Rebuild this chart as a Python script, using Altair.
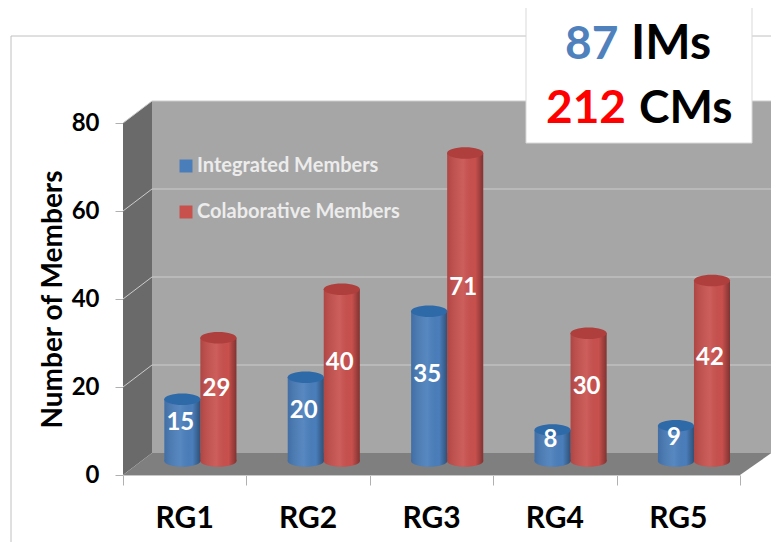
import altair as alt
import pandas as pd

groups = ["RG1", "RG2", "RG3", "RG4", "RG5"]
integrated = [15, 20, 35, 8, 9]
collaborative = [29, 40, 71, 30, 42]
series_names = ["Integrated Members", "Colaborative Members"]
y_ticks = [0, 20, 40, 60, 80]
FONT = "Lato"

rows = []
for i, g in enumerate(groups):
    for s, (name, vals) in enumerate(zip(series_names, [integrated, collaborative])):
        x0 = i + 0.335 + s * 0.292
        v = vals[i]
        rows.append(dict(group=g, series=name, value=v, x0=x0, x1=x0 + 0.292, xm=x0 + 0.146,
                         base=3.2, top=v + 2.2, ly=v * 0.55 + 3.5))
df = pd.DataFrame(rows)

xs = alt.Scale(domain=[0, 5], nice=False, zero=False)
ys = alt.Scale(domain=[0, 80], nice=False, zero=False)
x_axis = alt.Axis(values=list(range(6)), labels=False, tickSize=10, tickColor="#b0b0b0",
                  domainColor="#c8c8c8", grid=False, title=None)
y_axis = alt.Axis(values=y_ticks, tickSize=8, tickColor="#b0b0b0", domain=False, grid=False,
                  labelFont=FONT, labelFontWeight="bold", labelFontSize=24, labelColor="#000000",
                  labelPadding=16, titleFont=FONT, titleFontWeight="bold", titleFontSize=28,
                  titleColor="#000000", titlePadding=4, title="Number of Members")


def X(f):
    return alt.X(f, scale=xs, axis=x_axis, title=None)


def Y(f):
    return alt.Y(f, scale=ys, axis=y_axis, title="Number of Members")


DX, DY, DXR = 0.235, 5, 5.255

side = pd.DataFrame({"x": [0, DX], "y": [0, DY], "y2": [80, 80 + DY]})
floor = pd.DataFrame({"x": [0, DX, 5, DXR], "y": [0, DY, DY, DY], "y2": [0, 0, 0, DY]})
wall = pd.DataFrame({"x": [DX], "x2": [DXR], "y": [DY], "y2": [80 + DY]})
grid = pd.DataFrame({"v": y_ticks[1:]})
grid["w"] = grid.v + DY
grid["xa"], grid["xb"], grid["xc"] = 0, DX, DXR

side_layer = alt.Chart(side).mark_area(color="#6a6a6a").encode(x=X("x:Q"), y=Y("y:Q"), y2="y2:Q")
wall_layer = alt.Chart(wall).mark_rect(color="#a6a6a6").encode(x=X("x:Q"), x2="x2:Q", y=Y("y:Q"), y2="y2:Q")
floor_layer = alt.Chart(floor).mark_area(color="#7f7f7f").encode(x=X("x:Q"), y=Y("y:Q"), y2="y2:Q")
grid_back = alt.Chart(grid).mark_rule(color="#cccccc", strokeWidth=1).encode(x=X("xb:Q"), x2="xc:Q", y=Y("w:Q"))
grid_side = alt.Chart(grid).mark_rule(color="#cccccc", strokeWidth=1).encode(x=X("xa:Q"), x2="xb:Q", y=Y("v:Q"), y2="w:Q")

frame_v = alt.Chart().mark_rule(color="#c0c0c0").encode(x=alt.value(-112), y=alt.value(-87), y2=alt.value(420))
frame_h = alt.Chart().mark_rule(color="#c0c0c0").encode(x=alt.value(-112), x2=alt.value(656), y=alt.value(-87))

shade = alt.Gradient(gradient="linear", x1=0, x2=1, y1=0, y2=0, stops=[
    alt.GradientStop(offset=0, color="rgba(0,0,0,0.12)"),
    alt.GradientStop(offset=0.45, color="rgba(255,255,255,0.08)"),
    alt.GradientStop(offset=0.78, color="rgba(0,0,0,0.0)"),
    alt.GradientStop(offset=1, color="rgba(0,0,0,0.36)"),
])
color = alt.Color("series:N", scale=alt.Scale(domain=series_names, range=["#4a7ebb", "#c8504d"]),
                  legend=alt.Legend(title=None, orient="none", legendX=53, legendY=33, symbolType="square",
                                    symbolSize=169, symbolOpacity=1, labelFont=FONT, labelFontWeight="bold",
                                    labelFontSize=20, labelColor="#ececec", labelOffset=1, rowPadding=26,
                                    labelLimit=300))
ELL = "M-1,0A1,0.32,0,1,0,1,0A1,0.32,0,1,0,-1,0Z"
SIZE = 1310

bottom = alt.Chart(df).mark_point(shape=ELL, filled=True, size=SIZE, opacity=1).encode(
    x=X("xm:Q"), y=Y("base:Q"),
    color=alt.Color("series:N", scale=alt.Scale(domain=series_names, range=["#4a7ebb", "#c8504d"]), legend=None))
bottom_shade = alt.Chart(df).mark_point(shape=ELL, filled=True, size=SIZE, opacity=1, fill=shade).encode(
    x=X("xm:Q"), y=Y("base:Q"))
body = alt.Chart(df).mark_rect().encode(x=X("x0:Q"), x2="x1:Q", y=Y("base:Q"), y2="top:Q", color=color)
body_shade = alt.Chart(df).mark_rect(fill=shade).encode(x=X("x0:Q"), x2="x1:Q", y=Y("base:Q"), y2="top:Q")
top = alt.Chart(df).mark_point(shape=ELL, filled=True, size=SIZE, opacity=1).encode(
    x=X("xm:Q"), y=Y("top:Q"),
    color=alt.Color("series:N", scale=alt.Scale(domain=series_names, range=["#2f6aa8", "#ae3f3c"]), legend=None))
labels = alt.Chart(df).mark_text(font=FONT, fontWeight="bold", fontSize=24, color="white", baseline="middle", dx=-2).encode(
    x=X("xm:Q"), y=Y("ly:Q"), text="value:Q")

cat = pd.DataFrame({"g": groups, "pos": [i + 0.5 for i in range(5)]})
cat_labels = alt.Chart(cat).mark_text(font=FONT, fontWeight="bold", fontSize=30, color="black", baseline="alphabetic").encode(
    x=X("pos:Q"), y=alt.value(405), text="g:N")

box = alt.Chart().mark_rect(fill="white", stroke="#d9d9d9", strokeWidth=1).encode(
    x=alt.value(403), x2=alt.value(629), y=alt.value(-119), y2=alt.value(20))


def word(txt, col, px, py, size=46):
    return alt.Chart(pd.DataFrame({"t": [txt]})).mark_text(
        font=FONT, fontWeight="bold", fontSize=size, color=col, align="left", baseline="alphabetic"
    ).encode(x=alt.value(px), y=alt.value(py), text="t:N")


summary = [word("87", "#4f81bd", 442, -64), word("IMs", "#000000", 508, -64, 48),
           word("212", "#ff0000", 423, 0), word("CMs", "#000000", 516, 0)]

chart = alt.layer(
    frame_v, frame_h, side_layer, wall_layer, floor_layer, grid_back, grid_side,
    bottom, bottom_shade, body, body_shade, top, labels, cat_labels, box, *summary
).resolve_scale(color="independent").properties(
    width=617, height=352,
    padding={"left": 115, "top": 115, "right": 31, "bottom": 67},
    autosize=alt.AutoSizeParams(type="none"),
    background="white",
).configure_view(stroke=None)

chart.save("out.html", embed_options={"renderer": "svg", "actions": False})
